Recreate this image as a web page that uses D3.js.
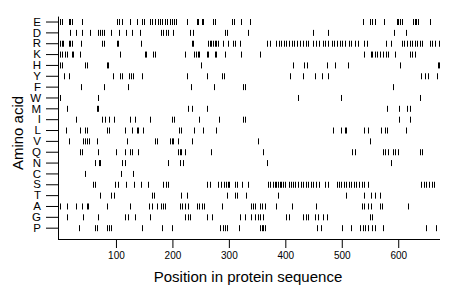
<!DOCTYPE html>
<html>
<head>
<meta charset="utf-8">
<script src="https://cdn.jsdelivr.net/npm/d3@7"></script>
<style>
  body { margin: 0; background: #fff; }
  text { font-family: "Liberation Sans", Arial, sans-serif; fill: #000; }
</style>
</head>
<body>
<div id="wrapper"></div>
<script>
// amino acids, top to bottom
const aminoAcids = ['E','D','R','K','H','Y','F','W','M','I','L','V','Q','N','C','S','T','A','G','P']
const xTicks = [100, 200, 300, 400, 500, 600]
const seqLength = 674

// positions of each residue in the sequence
const posE = [1,4,16,19,23,40,101,105,110,125,137,147,150,160,164,169,174,178,182,187,191,196,200,203,207,225,244,246,253,255,272,275,305,309,321,337,538,550,554,558,574,597,600,603,607,626,629,632,635,656]
const posD = [19,30,40,54,69,72,76,79,92,105,117,129,143,180,184,188,193,201,231,237,293,297,334,449,476,592,613]
const posR = [1,4,7,16,19,22,38,75,78,101,104,144,234,237,263,266,269,272,275,278,281,290,299,308,311,320,367,372,384,388,393,397,402,406,411,415,420,426,432,436,441,449,455,459,467,471,476,482,486,491,497,501,506,512,516,524,528,540,545,579,588,607,611,616,620,624,629,634,638,642,656,660,665,673]
const posK = [1,4,10,13,22,24,36,107,151,154,166,169,222,239,242,245,247,261,263,275,278,293,322,355,539,551,554,558,563,568,573,578,582,594,620,624,629]
const posH = [1,4,45,48,84,86,250,414,433,438,473,488,511,604,670,673]
const posY = [8,17,95,107,110,123,127,130,147,225,261,287,292,408,432,452,465,476,640,648,652,668]
const posF = [38,79,121,233,274,325,328,590]
const posW = [1,69,422,498,638]
const posM = [14,66,69,228,234,261,581,601,616,620]
const posI = [30,75,81,88,97,125,134,160,200,203,247,282,325,328,601,620]
const posL = [11,36,45,48,84,88,116,129,137,139,148,212,216,239,255,278,485,498,505,508,539,547,570,576,581,613]
const posV = [16,41,45,49,53,66,119,169,172,196,199,201,210,235,351,550]
const posQ = [36,39,68,100,116,125,129,139,210,213,216,223,269,361,518,524,573,577,582,591,595,600,638,642]
const posN = [63,70,72,110,116,193,213,219,368,587]
const posC = [45,109,131]
const posS = [59,63,99,103,117,132,144,157,184,188,193,262,266,281,286,292,295,298,301,311,315,324,334,369,373,378,381,384,387,390,393,396,399,406,410,414,418,423,427,431,436,441,445,449,454,459,471,476,491,495,499,504,508,512,517,522,526,530,535,540,546,641,646,650,654,659,664]
const posT = [72,91,97,163,168,216,225,296,311,315,331,387,508,539,552,558,567]
const posA = [1,13,29,39,48,51,84,125,159,163,172,180,184,187,213,217,222,228,243,247,252,256,287,340,343,346,355,359,364,383,412,455,535,539,546,551,567,571,617]
const posG = [13,42,69,116,121,134,160,222,227,231,262,270,319,328,340,346,351,355,361,402,406,432,436,440,453,458,467,473,550,554]
const posP = [35,62,66,84,88,92,147,182,200,284,289,293,297,318,355,358,361,364,456,464,501,517,533,537,541,547,553,558,573,650,667]

const positions = {
    E: posE, D: posD, R: posR, K: posK, H: posH, Y: posY, F: posF, W: posW, M: posM, I: posI,
    L: posL, V: posV, Q: posQ, N: posN, C: posC, S: posS, T: posT, A: posA, G: posG, P: posP,
}

const dims = {
    width: 460,
    height: 299,
    left: 58,
    right: 440,
    top: 16.6,
    bottom: 239,
}

const svg = d3.select('#wrapper')
    .append('svg')
    .attr('width', dims.width)
    .attr('height', dims.height)

const xScale = d3.scaleLinear()
    .domain([0, seqLength])
    .range([59.5, dims.right])

const yScale = d3.scaleBand()
    .domain(aminoAcids)
    .range([dims.top, 233.6])

// flatten into one list of marks
const marks = aminoAcids.flatMap(aa => positions[aa].map(p => ({ aa, p })))

svg.append('g')
    .attr('class', 'marks')
    .selectAll('line')
    .data(marks)
    .join('line')
    .attr('x1', d => Math.round(xScale(d.p)) + 0.5)
    .attr('x2', d => Math.round(xScale(d.p)) + 0.5)
    .attr('y1', d => yScale(d.aa) + yScale.bandwidth() / 2 - 3)
    .attr('y2', d => yScale(d.aa) + yScale.bandwidth() / 2 + 3)
    .attr('stroke', '#000')
    .attr('stroke-width', 1)

// y axis
const yAxis = svg.append('g')
    .attr('transform', `translate(${dims.left},0)`)
    .call(d3.axisLeft(yScale).tickSize(12).tickPadding(5))
yAxis.select('.domain').remove()
yAxis.selectAll('.tick line').attr('stroke', '#000')
yAxis.selectAll('.tick text')
    .style('font-size', '11.5px')
    .style('font-family', '"Liberation Sans", Arial, sans-serif')

// x axis
const xAxis = svg.append('g')
    .attr('transform', `translate(0,${dims.bottom})`)
    .call(d3.axisBottom(xScale).tickValues(xTicks).tickSize(9).tickPadding(4))
xAxis.select('.domain').remove()
xAxis.selectAll('.tick line').attr('stroke', '#000')
xAxis.selectAll('.tick text')
    .style('font-size', '10px')
    .style('font-family', '"Liberation Sans", Arial, sans-serif')

// frame lines (left and bottom)
svg.append('line')
    .attr('x1', dims.left + 0.5).attr('x2', dims.left + 0.5)
    .attr('y1', dims.top).attr('y2', dims.bottom + 0.5)
    .attr('stroke', '#000')
svg.append('line')
    .attr('x1', dims.left).attr('x2', dims.right)
    .attr('y1', dims.bottom + 0.5).attr('y2', dims.bottom + 0.5)
    .attr('stroke', '#000')

// axis titles
svg.append('text')
    .attr('x', 248)
    .attr('y', 282)
    .attr('text-anchor', 'middle')
    .style('font-size', '15px')
    .text('Position in protein sequence')

svg.append('text')
    .attr('transform', 'translate(23,133) rotate(-90)')
    .attr('text-anchor', 'middle')
    .style('font-size', '15px')
    .text('Amino acid')
</script>
</body>
</html>
